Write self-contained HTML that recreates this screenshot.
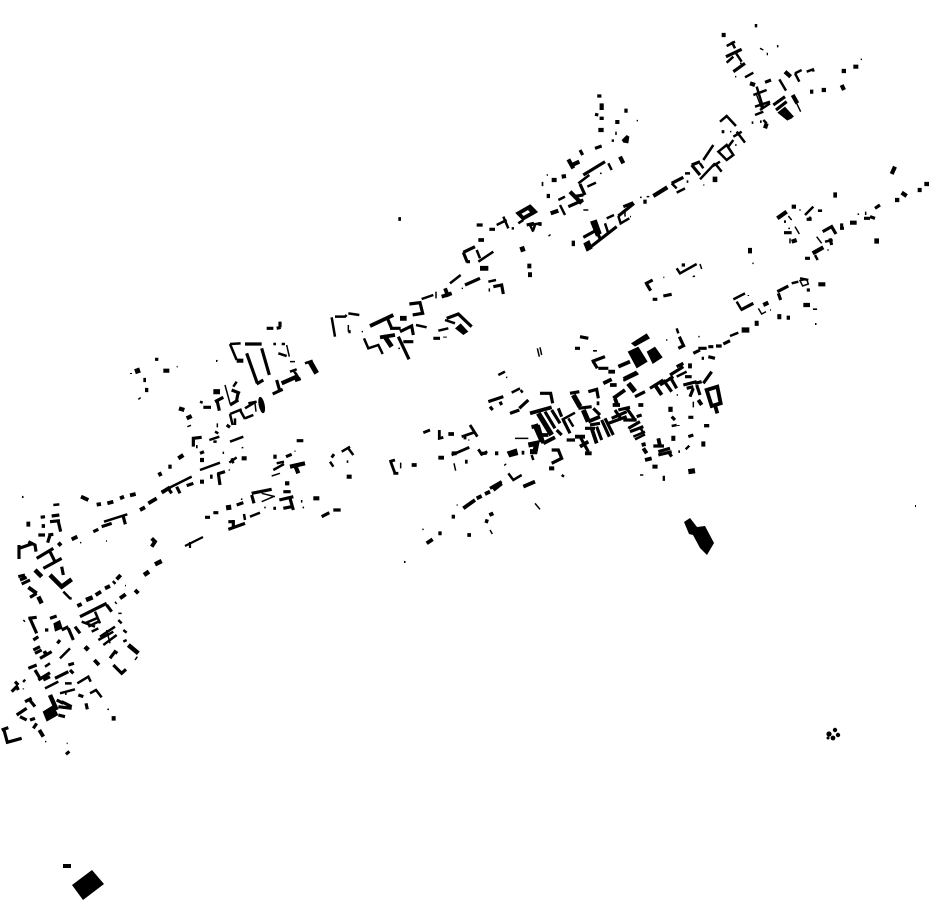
<!DOCTYPE html>
<html><head><meta charset="utf-8"><style>html,body{margin:0;padding:0;background:#fff}svg{display:block}
g g path[stroke-width="3"]{stroke-width:4.5}
g g path[stroke-width="5"]{stroke-width:7.5}
g g path[stroke-width="6"]{stroke-width:8.5}
g g path[stroke-width="7"]{stroke-width:9.5}
g g path[stroke-width="9"]{stroke-width:11.5}
g g path[stroke-width="10"]{stroke-width:12.5}
g g path[stroke-width="11"]{stroke-width:13.5}
g g path[stroke-width="12"]{stroke-width:14.5}
g g path[stroke-width="13"]{stroke-width:15.5}
g g path[stroke-width="14"]{stroke-width:16.5}
</style></head><body>
<svg width="930" height="924" viewBox="0 0 930 924" xmlns="http://www.w3.org/2000/svg">
<g fill="none" stroke="#000">
<!-- A -->
<g transform="translate(0,480) scale(.33333)">
<path stroke-width="3" d="M66 50h3M240 188h4M318 183h3M375 317h3M345 365l5 7M355 400h10M320 450l10 40M405 540l7-10M75 425l-5-5M70 625v3M135 785h4M200 790h3M322 688h5"/>
<path stroke-width="5" d="M160 75l18-2M312 125l70-22M245 425l40 15M255 430l35-15M265 440l30-15M285 395l15 35M275 455l20-10M300 470l45-30M295 480l45-25M310 495l40-30M190 335l20 20h5M355 420l10 10M370 450l10 8M370 485l10-5M135 625l40-20M195 610h20M232 610l33-20 7 15M180 640l45-12M270 640l18-10 17 22M180 535l30-30M135 560l15-10"/>
<path stroke-width="7" d="M370 110l6 23M280 155l15-7M305 140l30-10M122 112l13-2M155 108l23-3M150 125l30-3M175 125l7 30M115 165h20M145 165l15-2M150 165l-7 23M57 237V195M57 205l43-15M85 185l20 10 3 20M110 235l50-30M130 265l55-30M150 215l15 30M185 260l5 25M55 290l20-5M60 300l20-8M65 312l25-12M90 352l20-12M240 410l80-40M320 375l15 20M330 535l15-20 7 5M340 555l25 25 13-12M225 440l15 20M185 450l20-10M205 445l15 35M172 490l8-10M100 480l15-10M85 415l25-3M90 415l20 45M135 450h10M150 415l20-7M100 510l20-10M105 520l20-10M120 535l35-20M130 520l10-5M85 565l25-10M105 570l15 25M115 600l35-22M130 600l20-10M165 595l40-20M205 555l17-5M210 570l10 10M195 640h5M235 645l15 5M185 665l30 15M258 670l4 18M45 605l10 10M70 600l5 5M35 635l15-15 5 10M75 665l20-10M85 655l20 25M50 705l30-20M60 710l20 10M90 720l15-5M100 745l10-15M5 750l20-7M12 750l10 37 43-12M170 660l20 10M175 680l40 5M175 705l20 5"/>
<path stroke-width="9" d="M243 50l22 10M290 74l13-2M322 70l18-5M360 55l12-5M390 46l17-4M420 90l15-8M445 70l25-15M485 38l25-16M215 178l17-8M175 188l8 9M85 125v15M125 138h10M85 322l25 18M232 378l13-6M287 345l16-10M315 325l15-7M340 310l5-5M350 298l12-13M360 355l17-12M405 330l10 10M455 175l10 10-10 15M118 750l12 20M283 540l14 15"/>
<path stroke-width="11" d="M150 285l35 35 30-22M105 270l20 20M115 350l10 20M258 360l20-8M432 285l15-10M465 253l20-10M385 495l30 25M255 500l10 10M150 645l20 45M200 815l6 7M335 715h12"/>
<path fill="#000" stroke="none" d="M160 430l20-10 8 25-23 10zM128 695l32-20 15 30-35 20z"/>
</g>
<!-- B -->
<g transform="translate(480,320) scale(.33333)">
<path stroke-width="3" d="M105 355h40M172 85l6 25M180 82l5 23M640 245v17M480 465h10M558 60h4M655 50h4M590 225h4M78 172h4M72 435h4"/>
<path stroke-width="5" d="M590 25l5 15M430 175l40-20M430 182l45-22M590 170l30-15M460 350l35-15M465 358l30-15M55 165l20-10M95 218l25-13M122 210l6 8M245 465l7 5M265 295l15 25M245 300l40-22M480 320l10 20M85 460l15 20 25-15M155 405l5 15M595 315v3M595 395h5M575 318l15-3"/>
<path stroke-width="7" d="M300 50l25 5M285 85h15M335 125l40-15M340 125l12 20M355 145h30M598 50l14 30M595 85l20-10M465 230l30-15M510 205l40-25M540 195l40-25M550 180l25 35M570 170l20 35M590 140l20-10M570 165l40-25M615 170h20M640 100l20-10M655 85h25M685 80h15M708 78h17M730 72l20-10M665 115h7M685 110l20 5M645 190l20-5M670 190l25-35M610 195l40-10M620 205l20-5M650 195l10 30M630 230l10-25M625 292h15M575 290l10 10M625 350l15-5M520 378h32M535 395l35-10M535 405l40-10M565 395l10 15M25 245l45-15M30 260l8 10M60 245l5 10M90 280l28-10M118 265l27-25M180 220h32l6 30M195 275l30 50M215 270l25 40M235 265l10 25M230 330l15 15M270 220l28-5M325 215l25-7 5 27M295 265l40-5M340 265l20 20M250 300l20 40M260 360h25M300 350l25 45M315 325h30M330 315l30-5M350 320l15 40M365 300l23 50M375 295l25 50M385 310l55-20M395 295l45-20M415 270l35-8M405 270l20 30M440 265l25 35M430 300h40M445 325l35-20M450 335l40-15M470 290l15-5M215 390h20l10 25-30 15M0 400h20M30 505l35-20"/>
<path stroke-width="9" d="M415 140l35-15M370 190l25-12M385 155h20M390 195h20M400 235l35-25M405 235l7 20M398 255h22M475 255h15M525 195l20 30M630 130v15M655 240l10 15M150 280l65-18M155 320h20l15 50M155 322l20-7M165 320l20 45M175 345h30M190 370l35-18M325 305l35-15M350 250h8M285 350h30M300 380l25-15M315 400h20M335 325l15 45M45 400h10M125 398h8M130 500l35-15M490 385l10 15M485 375l12-3M345 90v5M680 210l32-10 10 50-27 8zM705 255l7 25M535 355l5 23M495 420l20-5"/>
<path stroke-width="13" d="M445 190l20 25M175 280l40 65M280 225l20 35M310 270l15 35M565 268h13M680 312v10M574 355h12M664 372h12M620 380l5 5M525 434v12M548 475h7M625 455l20-3M215 439v12M145 375l25-5-5 25-15 0"/>
<path fill="#000" stroke="none" d="M443 95l32-15 28 45-33 20zM525 80l23 32-30 20-18-37zM453 70l47-30 10 15-45 25zM80 395l30-10 5 20-27 7z"/>
</g>
<!-- C -->
<g transform="translate(130,320) scale(.33333)">
<path stroke-width="3" d="M285 195l15 55M470 75l8 35M262 310v12M172 320l11-4M25 238l7-5M140 140h3M260 122h3M480 125h15M500 160v5M280 395v7M298 448v4M335 383h5M395 520l40 10M395 545l35-15M425 468l25-8M335 535v5M405 560v5M515 540v8M520 560v5M495 392v3M375 250l3 25"/>
<path stroke-width="5" d="M430 72h8M455 72h10M445 100l25 8M525 130l23-8M490 150l20 30M480 155l20-7M210 245l8 3M300 365l40-15M95 515l90-45M440 430l22-5M430 450l32-18M600 425l10 15M655 385l15 20M635 395l25-15M300 72l20 48M300 72l32-2M320 185l-10 15M315 295v20M300 282l35-14M300 282l8 33M355 250l25-5M345 265l33-20M330 270l15 27M345 295l25-10M255 335l10 5M238 360l30-10M250 365h10M342 582l3 18M360 590l30-12M210 450l60-22M298 428l22-16M305 415l5 15M650 425h5"/>
<path stroke-width="7" d="M345 72h50M350 100l32 90M395 85l23 80M380 192l20-12M440 180l10 35M428 222l30-14M495 182l17-6M305 210l25 10M325 215l-5 25M300 255l25-15M255 245l25-13M262 245l6 27M220 262h23M290 315l10 7M190 380v-25l25-3M198 380h5M210 400l12-5M75 118h10M262 462l23-7M265 460l5 35M118 510l7 10M170 497l20-7M225 592h15M250 578h15M320 555l20-7M365 520l60-12M365 525l7 25M448 540l42-10M480 535l10 35M460 565l25-5M460 515h22M575 590l23-12M610 570h22M430 565h8M295 605h15M310 600v20M295 628l50-18M468 410l17-7M500 362h20M410 25h20M440 25l12-3M450 5v17M140 500l10 20"/>
<path stroke-width="10" d="M320 122h20M455 190l45-20M147 265l16 5M170 295l15-7M100 152h18M40 180h8M45 210h10M210 420h12M335 415h15M210 485h12M240 470h8M85 465l10-5M115 440h10M145 415l15-10M465 490h13M550 535h18M430 410h10M480 440l45-10M495 435l10 25M605 405l7 5M650 470h15"/>
<path stroke-width="13" d="M250 215h20M15 155l15-5M540 125l20 35M295 555l2 15"/>
<ellipse cx="395" cy="255" rx="9" ry="25" fill="#000" stroke="none" transform="rotate(-12 395 255)"/>
</g>
<path stroke-width="2.2" d="M185 546l18-9M190 542v6"/>
<!-- D -->
<g transform="translate(330,200) scale(.33333)">
<path stroke-width="3" d="M318 275v20M478 265v10M395 265h4M658 105h4M95 395h4M55 375v20M205 445h5"/>
<path stroke-width="5" d="M500 75l30-15M520 50l15 35M545 85h7M445 185l45-30M440 150l10 25M360 250l32-25M475 245l23-5M275 297l35-12M258 375l32 7M325 392l30-7M345 360l30 10M102 415l13 30 30-10 13 27M15 350h30l5-5M5 352l10 58M55 340l33 5M600 75l10 20M565 70l15-10"/>
<path stroke-width="7" d="M440 75h18M478 88h17M400 157l35-17M400 157l12 30M410 185h10M405 255l45-20M490 260l25-5 5 27M238 312l32-4 8 32-30 5M170 350l15 35M180 385h32M210 395l35-17 5 27M350 355l35-13 40 38M310 415h20M205 410l32 68M220 425h30M590 75l22-5M55 395h7"/>
<path stroke-width="9" d="M205 57h8M565 40l35-20 15 15-35 20zM625 72h10M445 120h17M120 378l70-33M335 290l30-10M345 265l10 25M150 412l45-7M345 410v3"/>
<path stroke-width="12" d="M450 205h25M575 140l5 15M592 198h12M594 224h12M210 355h20M165 410l20 30"/>
<path fill="#000" stroke="none" d="M375 385l17-15 23 25-15 10z"/>
</g>
<!-- E -->
<g transform="translate(530,80) scale(.33333)">
<path stroke-width="3" d="M320 122h4M258 155v10M210 280h5M50 285h4M55 467h4M300 410h3M330 352h5M350 350h8M520 315h3M615 195h5M600 155h4M160 390h15M285 395v15"/>
<path stroke-width="5" d="M245 182h7M235 250l10 20M145 310l33-25M172 320l26-12M90 375l15 30M0 435l30-5M10 450l5-15M265 408l7 22 26-15M425 310l15 15M440 338l25-13M465 280h15M470 305h5M510 250l10 15M510 298l45-48M520 240l30-45M565 215l25-20 20 30-20 15zM555 250l20 25M545 260l25-15M570 125l20-17 28 30M610 170l25-15M620 155l25 33M610 180l-15 20M225 430l10 30M85 360l20-10M230 415l22-10"/>
<path stroke-width="7" d="M195 205l20-7M195 103l10 2M150 210l8 15M160 285l65-40M150 312l15 33M130 350l30-5M115 380l45-20M170 510l90-70M160 472l40-22M200 455l10 20M265 408l47-38M280 380l30-12M425 310l35-18M485 255l25-10M485 255l25 30M575 155h8"/>
<path stroke-width="10" d="M208 43v10M215 70v20M215 110v10M205 150h16M262 120v12M283 92h10M95 290l13-2M65 300h15M35 312h5M50 348h10M62 400l23-8M340 365h10M120 335l35 35M115 238l15 27M120 258l28-13M270 230l10 20M370 348l42-26"/>
<path stroke-width="14" d="M0 385l15 15M125 490h10M548 298h14M654 512h12"/>
<path fill="#000" stroke="none" d="M275 180l15-15 8 5-3 20-15-2zM160 490l18-10 10 25-18 10zM180 425l20-7 15 42-17 10z"/>
</g>
<!-- F -->
<g transform="translate(700,20) scale(.33333)">
<path stroke-width="3" d="M180 85l10 5M233 75v7M482 118h4M105 170h4M170 225l15 40M120 130h5M290 250l12 25"/>
<path stroke-width="5" d="M168 12v10M80 78l25-13M95 65l10 20M105 95l20 30M80 128l20-18M135 172l25-14M200 102h4M170 200l20 65M160 225l40-15M165 260l45-15M180 270l30-20M238 178l20 34M285 160l20-10M285 160l13 25M320 155l22-8M340 150v5M155 308h5M180 305h5M190 300l10 10M165 285l25-10"/>
<path stroke-width="7" d="M78 110l47-22M100 155l35-25M195 187l18-7M220 255l35-25M228 270l32-25M265 295l10-5"/>
<path stroke-width="10" d="M65 45h12M150 190l15 5M255 155l17 15M278 225l14 25M425 153h13M460 140h15M425 195l7 15M365 210h13M330 215h10M195 325l5-15"/>
<path fill="#000" stroke="none" d="M232 278l23-18 27 30-20 12z"/>
</g>
<!-- G -->
<g transform="translate(640,160) scale(.33333)">
<path stroke-width="3" d="M445 168l10 12M465 200l13 22M530 230l15 20M355 445l10 17 13-7M562 270h4M478 150h4M180 312l5 15M158 350l7-2M70 352h3M337 310h4M390 450h3M525 492h3M325 405v3M480 362l20-4 5 14-17 6zM450 235v15M445 205h5M655 160v5M677 155v10"/>
<path stroke-width="5" d="M495 165l25-25M510 170v8M555 245l23-5M525 285l8 15M432 185h6M280 418l35-18M290 425l15 25M455 370l20-5M480 355l25 5M270 528l25-10M110 325l10 15 50-28"/>
<path stroke-width="7" d="M500 178h15M432 218h23M548 215l27-15 13 22M570 235l5 20M495 295h15M15 372l23-12M20 372l12 20M38 418h14M70 408l25-5M302 450l38-20M412 395l33-17M415 400l7 20M505 385v10M125 315h10M605 190v15M600 205h12M690 170l15 5M672 175h18M705 145l15-10"/>
<path stroke-width="10" d="M765 20l-10 22M853 72h14M833 90h12M785 98l15 10M765 120h13M540 148v8M412 175l28-20M455 140h13M455 245l15-5M518 280l32-18M630 188h20M370 435l15-7M535 373h21M490 435h20M525 445v5M440 473h10"/>
<path stroke-width="13" d="M580 105h11M703 243h14M412 470h12M305 510h23M344 490h12"/>
</g>
<!-- H -->
<g transform="translate(380,420) scale(.33333)">
<path stroke-width="3" d="M62 128v17M222 130l5 22M330 330l7 12M465 250l15 18M230 255h3M127 328h4M72 425h3M375 133h4M265 60h3"/>
<path stroke-width="6" d="M130 38l20-8M178 30v25l12-3M245 50l35-12M270 15l22 35M255 45v13M28 125l17-5M32 125l13 35M40 160h15M215 105l53-23M295 88l10 15 17-8"/>
<path stroke-width="9" d="M205 42h17M175 113h17M255 125h8M250 265l35-25M290 235l15-7M315 222l15-7M340 210l25-20M215 290h10M175 340h10M140 370l18-12M328 285l12-5M315 302l10 3M262 345h11M95 135h15M215 100h15"/>
</g>
</g>
<!-- isolated -->
<path fill="#000" d="M684 522l6-4 7 9 8-1 9 17-7 12-7-7-7-13-4-1zM72 885l20-15 12 14-21 16z"/>
<rect x="63" y="864" width="8" height="4" fill="#000"/>
<g fill="#000"><circle cx="829" cy="734" r="2.6"/><circle cx="835" cy="730" r="2.2"/><circle cx="838" cy="735" r="2.2"/><circle cx="833" cy="738" r="2.4"/><circle cx="828" cy="738" r="1.5"/>
<rect x="915" y="505" width="1" height="2"/><rect x="404" y="561" width="1.5" height="2"/><rect x="22" y="496" width="1.5" height="2"/><rect x="216" y="360" width="1" height="2"/><rect x="130" y="373" width="2" height="1"/><rect x="815" y="323" width="1.5" height="2"/></g>
</svg>
</body></html>
